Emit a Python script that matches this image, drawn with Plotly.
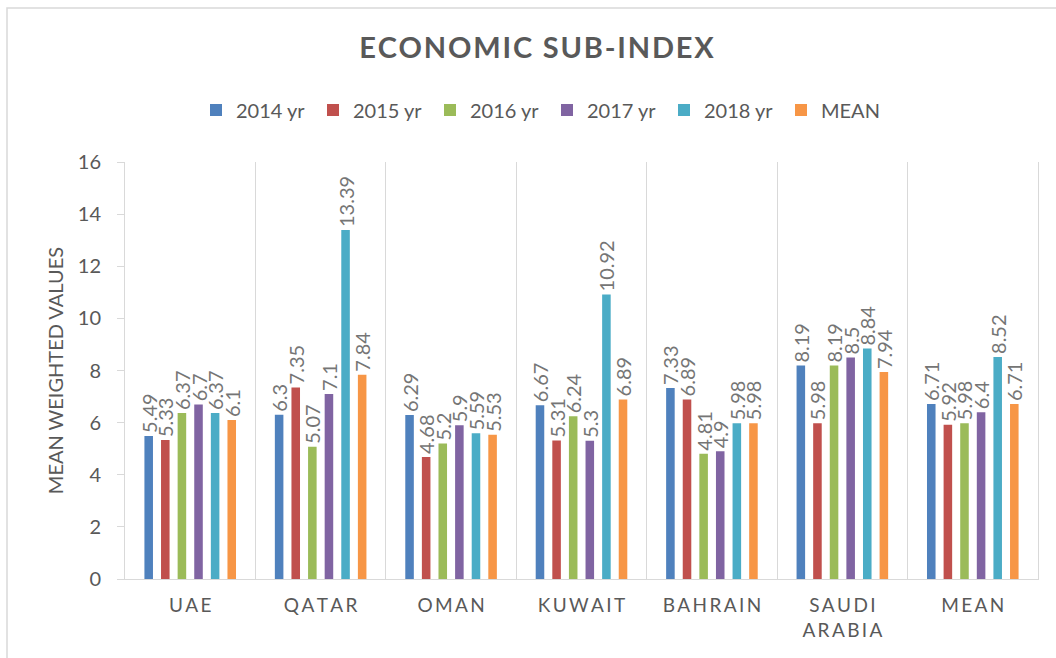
import plotly.graph_objects as go

categories = ["UAE", "QATAR", "OMAN", "KUWAIT", "BAHRAIN", "SAUDI ARABIA", "MEAN"]
series_names = ["2014 yr", "2015 yr", "2016 yr", "2017 yr", "2018 yr", "MEAN"]
v2014 = [5.49, 6.3, 6.29, 6.67, 7.33, 8.19, 6.71]
v2015 = [5.33, 7.35, 4.68, 5.31, 6.89, 5.98, 5.92]
v2016 = [6.37, 5.07, 5.2, 6.24, 4.81, 8.19, 5.98]
v2017 = [6.7, 7.1, 5.9, 5.3, 4.9, 8.5, 6.4]
v2018 = [6.37, 13.39, 5.59, 10.92, 5.98, 8.84, 8.52]
vmean = [6.1, 7.84, 5.53, 6.89, 5.98, 7.94, 6.71]
colors = ["#4F81BD", "#C0504D", "#9BBB59", "#8064A2", "#4BACC6", "#F79646"]

FONT = "Lato"
AX = "#595959"
GRID = "#D9D9D9"


def spaced(s, sep="\u2009"):
    return "<br>".join(sep.join(list(w)) for w in s.split("\n"))


tick_text = [spaced(c.replace("SAUDI ARABIA", "SAUDI\nARABIA")) for c in categories]

fig = go.Figure()
for name, vals, col in zip(series_names, [v2014, v2015, v2016, v2017, v2018, vmean], colors):
    fig.add_trace(go.Bar(
        name=name, x=categories, y=vals, marker=dict(color=col, line=dict(width=0)),
        text=[f"{v:g}" for v in vals], textposition="outside", textangle=-90,
        constraintext="none", cliponaxis=False,
        textfont=dict(family=FONT, size=20, color="#757575"),
    ))

fig.update_layout(
    width=1056, height=658,
    margin=dict(l=125, r=18, t=162, b=79, autoexpand=False),
    paper_bgcolor="white", plot_bgcolor="white",
    barmode="group", bargap=0.236, bargroupgap=0.485,
    font=dict(family=FONT, color=AX),
    title=dict(text=spaced("ECONOMIC SUB-INDEX", "\u200a"), x=0.508, xref="container", xanchor="center",
               y=1 - 48 / 658, yref="container", yanchor="middle",
               font=dict(family=FONT, size=29, color=AX, weight="bold")),
    legend=dict(orientation="h", x=(196 - 125) / 913, xanchor="left", y=(579 - 110) / 417, yanchor="middle",
                font=dict(family=FONT, size=20, color=AX), entrywidth=72, itemwidth=30,
                traceorder="normal"),
    xaxis=dict(type="category", tickmode="array", tickvals=categories, ticktext=tick_text,
               tickson="boundaries", showgrid=True, gridcolor=GRID, gridwidth=1,
               showline=True, linecolor=GRID, linewidth=1, ticks="",
               ticklabelstandoff=9,
               tickfont=dict(family=FONT, size=19, color=AX)),
    yaxis=dict(range=[0, 16], dtick=2, showgrid=False, zeroline=False,
               showline=True, mirror=True, linecolor=GRID, linewidth=1,
               ticks="outside", ticklen=7, tickcolor=GRID, ticklabelstandoff=12,
               tickfont=dict(family=FONT, size=20, color=AX),
               title=dict(text="MEAN WEIGHTED VALUES", standoff=8,
                          font=dict(family=FONT, size=20, color=AX))),
    shapes=[dict(type="rect", xref="paper", yref="paper",
                 x0=(7 - 125) / 913, x1=(1080 - 125) / 913,
                 y0=(579 - 680) / 417, y1=(579 - 8) / 417,
                 line=dict(color=GRID, width=1.5), fillcolor="rgba(0,0,0,0)", layer="below")],
)

fig.write_html("out.html", config={"displayModeBar": False},
               post_script="document.body.style.margin='0';document.body.style.overflow='hidden';")
